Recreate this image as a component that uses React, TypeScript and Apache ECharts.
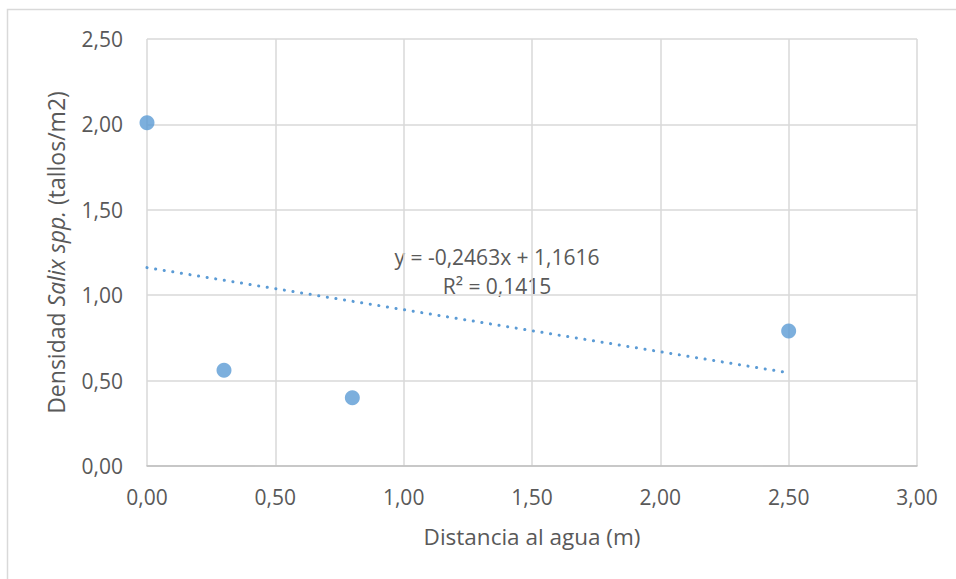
import React, { useEffect, useRef } from "react";
import * as echarts from "echarts";

const distances = [0, 0.3, 0.8, 2.5];
const densities = [2.01, 0.56, 0.4, 0.79];
const trendSlope = -0.2463;
const trendIntercept = 1.1616;
const trendRange = [0, 2.5];
const equationLines = ["y = -0,2463x + 1,1616", "R² = 0,1415"];
const xTitle = "Distancia al agua (m)";

const FONT = "'Open Sans', sans-serif";
const fmt = (v: number) => v.toFixed(2).replace(".", ",");

export default function App() {
  const ref = useRef<HTMLDivElement>(null);
  useEffect(() => {
    if (!ref.current) return;
    const chart = echarts.init(ref.current, null, { renderer: "svg" });
    const trend = trendRange.map((x) => [x, trendIntercept + trendSlope * x]);
    chart.setOption({
      animation: false,
      backgroundColor: "#ffffff",
      grid: { left: 147, right: 39, top: 39, bottom: 113, containLabel: false },
      xAxis: {
        type: "value",
        min: 0,
        max: 3,
        interval: 0.5,
        name: xTitle,
        nameLocation: "middle",
        nameGap: 59,
        nameTextStyle: { fontFamily: FONT, fontSize: 22.5, color: "#595959" },
        axisLine: { show: true, lineStyle: { color: "#bfbfbf", width: 1.5 } },
        axisTick: { show: false },
        axisLabel: {
          formatter: fmt,
          fontFamily: FONT,
          fontSize: 21,
          color: "#595959",
          margin: 20,
        },
        splitLine: { show: true, lineStyle: { color: "#d9d9d9", width: 1.5 } },
      },
      yAxis: {
        type: "value",
        min: 0,
        max: 2.5,
        interval: 0.5,
        name: "Densidad {i|Salix spp.} (tallos/m2)",
        nameLocation: "middle",
        nameGap: 80,
        nameRotate: 90,
        nameTextStyle: {
          fontFamily: FONT,
          fontSize: 23,
          color: "#595959",
          rich: {
            i: { fontFamily: FONT, fontSize: 23, color: "#595959", fontStyle: "italic" },
          },
        },
        axisLine: { show: false },
        axisTick: { show: false },
        axisLabel: {
          formatter: fmt,
          fontFamily: FONT,
          fontSize: 21,
          color: "#595959",
          margin: 24,
        },
        splitLine: { show: true, lineStyle: { color: "#d9d9d9", width: 1.5 } },
      },
      series: [
        {
          type: "line",
          data: trend,
          symbol: "none",
          lineStyle: {
            color: "#5b9bd5",
            width: 3,
            type: [0.1, 8.6],
            cap: "round",
          },
          z: 2,
        },
        {
          type: "scatter",
          data: distances.map((x, i) => [x, densities[i]]),
          symbolSize: 15,
          itemStyle: { color: "#5b9bd5" },
          z: 3,
        },
      ],
      graphic: [
        {
          type: "rect",
          shape: { x: 7.5, y: 9.5, width: 1200, height: 1200 },
          style: { fill: "none", stroke: "#d9d9d9", lineWidth: 1.5 },
          silent: true,
        },
        {
          type: "text",
          x: 497,
          y: 257,
          style: {
            text: equationLines[0],
            fontFamily: FONT,
            fontSize: 21,
            fill: "#595959",
            align: "center",
            verticalAlign: "middle",
          },
        },
        {
          type: "text",
          x: 497,
          y: 286,
          style: {
            text: equationLines[1],
            fontFamily: FONT,
            fontSize: 21,
            fill: "#595959",
            align: "center",
            verticalAlign: "middle",
          },
        },
      ],
    });
    return () => chart.dispose();
  }, []);
  return (
    <div
      ref={ref}
      style={{ position: "fixed", left: 0, top: 0, width: 956, height: 579 }}
    />
  );
}
